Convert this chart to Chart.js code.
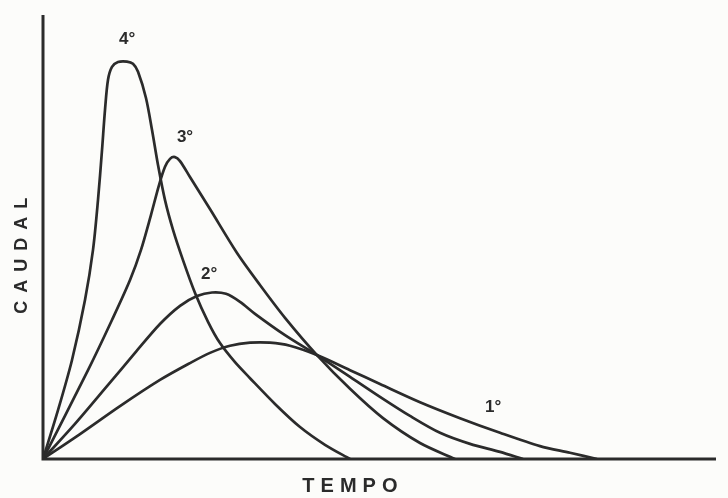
<!DOCTYPE html>
<html>
<head>
<meta charset="utf-8">
<script src="https://cdn.jsdelivr.net/npm/chart.js@4/dist/chart.umd.min.js"></script>
<style>
  html, body { margin: 0; padding: 0; background: #fcfcfa; }
  #wrap { width: 728px; height: 498px; }
</style>
</head>
<body>
<div id="wrap"><canvas id="hydroChart"></canvas></div>
<script>
// hidrogramas - tempo (x) vs caudal (y), escalas relativas 0..100

const tempo4 = [0, 2.23, 4.31, 6.24, 7.43, 8.17, 8.77, 9.21, 9.66, 10.25, 11.14, 12.48, 13.37, 14.12, 15.30, 16.20, 17.09, 18.13, 19.32, 20.80, 22.59, 24.52, 26.30, 28.53, 30.76, 34.47, 38.19, 41.90, 45.62];
const caudal4 = [0, 11.0, 22.3, 35.8, 47.1, 58.3, 69.6, 78.6, 85.4, 88.3, 89.4, 89.5, 89.0, 87.2, 81.3, 74.1, 66.2, 58.3, 51.6, 44.8, 37.4, 30.9, 26.1, 21.8, 18.2, 12.4, 7.2, 3.2, 0];

const tempo3 = [0, 6.69, 10.25, 12.93, 14.56, 16.05, 17.24, 18.13, 18.87, 19.61, 20.36, 21.84, 24.81, 28.83, 32.24, 35.96, 40.71, 45.62, 50.52, 56.02, 61.22];
const caudal3 = [0, 20.0, 31.3, 40.3, 47.1, 55.0, 61.7, 65.8, 67.6, 68.0, 67.1, 63.5, 56.3, 46.4, 39.2, 31.8, 23.4, 15.8, 9.2, 3.6, 0];

const tempo2 = [0, 4.75, 9.51, 13.67, 17.38, 20.36, 22.88, 25.11, 27.19, 29.27, 31.50, 35.96, 40.71, 45.62, 50.07, 54.53, 58.99, 63.45, 67.91, 71.32];
const caudal2 = [0, 7.9, 16.4, 23.9, 30.4, 34.5, 36.7, 37.5, 37.2, 35.4, 32.7, 27.9, 23.4, 18.5, 14.0, 9.7, 5.9, 3.4, 1.6, 0];

const tempo1 = [0, 5.50, 11.44, 17.38, 21.84, 24.81, 27.79, 30.76, 33.73, 36.70, 40.71, 45.62, 50.07, 56.02, 61.96, 67.91, 73.85, 78.31, 82.32];
const caudal1 = [0, 5.6, 11.9, 17.8, 21.6, 23.9, 25.5, 26.2, 26.2, 25.5, 23.4, 20.0, 16.9, 12.8, 9.2, 5.9, 2.9, 1.4, 0];

// rotulos das curvas (posicao em unidades dos dados)
const curveLabels = ['4°', '3°', '2°', '1°'];
const labelTempo = [12.5, 21.1, 24.7, 66.9];
const labelCaudal = [94.6, 72.4, 41.6, 11.6];

const ink = '#2b2b2b';
const paper = '#fcfcfa';

function toPoints(xs, ys) {
  return xs.map((x, i) => ({ x: x, y: ys[i] }));
}

function curve(xs, ys) {
  return {
    data: toPoints(xs, ys),
    borderColor: ink,
    borderWidth: 2.7,
    pointRadius: 0,
    fill: false,
    tension: 0.3,
    borderJoinStyle: 'round'
  };
}

// eixos, titulos e rotulos desenhados a mao
const sketchPlugin = {
  id: 'sketch',
  beforeDraw(chart) {
    const ctx = chart.ctx;
    ctx.save();
    ctx.fillStyle = paper;
    ctx.fillRect(0, 0, chart.width, chart.height);
    ctx.restore();
  },
  afterDatasetsDraw(chart) {
    const ctx = chart.ctx;
    const a = chart.chartArea;
    const xs = chart.scales.x;
    const ys = chart.scales.y;

    ctx.save();
    ctx.strokeStyle = ink;
    ctx.lineWidth = 3;
    ctx.beginPath();
    ctx.moveTo(a.left, a.top);
    ctx.lineTo(a.left, a.bottom);
    ctx.lineTo(a.right, a.bottom);
    ctx.stroke();

    ctx.fillStyle = ink;
    ctx.font = 'bold 17px "Liberation Sans", Arial, sans-serif';
    ctx.textAlign = 'center';
    ctx.textBaseline = 'middle';
    curveLabels.forEach((t, i) => {
      ctx.fillText(t, xs.getPixelForValue(labelTempo[i]), ys.getPixelForValue(labelCaudal[i]));
    });

    // titulo do eixo x
    ctx.font = 'bold 20px "Liberation Sans", Arial, sans-serif';
    ctx.letterSpacing = '6px';
    ctx.fillText('TEMPO', xs.getPixelForValue(45.6) + 3, a.bottom + 27);

    // titulo do eixo y
    ctx.font = 'bold 18px "Liberation Sans", Arial, sans-serif';
    ctx.letterSpacing = '8px';
    ctx.translate(22, ys.getPixelForValue(45.8));
    ctx.rotate(-Math.PI / 2);
    ctx.fillText('CAUDAL', 4, 0);
    ctx.restore();
  }
};

new Chart(document.getElementById('hydroChart'), {
  type: 'line',
  data: {
    datasets: [
      curve(tempo4, caudal4),
      curve(tempo3, caudal3),
      curve(tempo2, caudal2),
      curve(tempo1, caudal1)
    ]
  },
  options: {
    responsive: true,
    maintainAspectRatio: false,
    animation: false,
    layout: {
      padding: { left: 43, right: 12, top: 15, bottom: 39 }
    },
    scales: {
      x: { type: 'linear', min: 0, max: 100, display: false },
      y: { min: 0, max: 100, display: false }
    },
    plugins: {
      legend: { display: false },
      tooltip: { enabled: false }
    }
  },
  plugins: [sketchPlugin]
});
</script>
</body>
</html>
